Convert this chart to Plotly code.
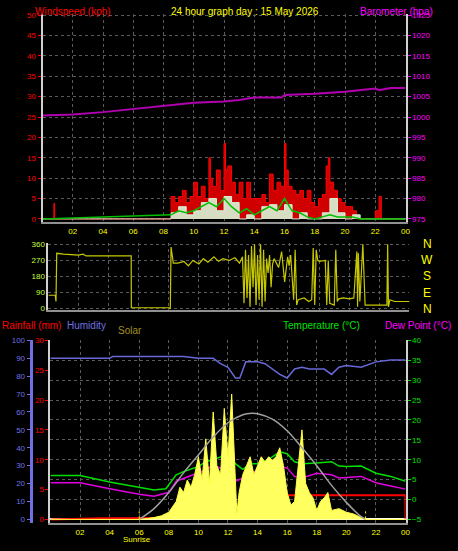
import plotly.graph_objects as go

# ---------------- data ----------------
hour_ticks = [2, 4, 6, 8, 10, 12, 14, 16, 18, 20, 22, 24]
hour_labels = ["02", "04", "06", "08", "10", "12", "14", "16", "18", "20", "22", "00"]

gust_t = [0, 0.7, 0.75, 0.8, 8.45, 8.5, 8.75, 9.0, 9.25, 9.5, 9.75, 10.0, 10.25, 10.5, 10.75, 11.0, 11.1, 11.25, 11.5, 11.75,
          12.0, 12.1, 12.25, 12.5, 12.75, 13.0, 13.25, 13.5, 13.75, 14.0, 14.25, 14.5, 14.75, 15.0, 15.25, 15.5, 15.75,
          16.0, 16.1, 16.25, 16.5, 16.75, 17.0, 17.25, 17.5, 17.75, 18.0, 18.25, 18.5, 18.75, 18.9, 19.0, 19.25, 19.5,
          19.75, 20.0, 20.25, 20.5, 20.75, 21.0, 22.0, 22.25, 22.4, 24]
gust_v = [0, 0, 3.8, 0, 0, 5.5, 4, 5.5, 7, 4, 5.5, 9, 5.5, 8, 5, 15, 10, 8, 12, 7,
          18.5, 12, 13, 9, 6, 9, 5, 9, 5, 5, 5, 6, 4, 11, 7, 9, 8,
          18.5, 12, 8, 7, 6, 7, 5, 7, 4, 3, 5, 6, 13, 15, 9, 7, 5,
          4, 3, 3, 2, 0, 0, 2, 5.5, 0, 0]
avg_t = [0, 8.5, 9, 9.5, 10, 10.5, 11, 11.5, 12, 12.5, 13, 13.5, 14, 14.5, 15, 15.5, 16, 16.5, 17, 17.5, 18, 18.5, 19, 19.5, 20, 20.5, 21, 22.5, 24]
avg_v = [0, 1, 2, 1.5, 2, 3, 4, 3, 5, 3, 1.5, 2.5, 1, 2, 3, 2, 5, 2, 1.5, 0.5, 0, 0.5, 1, 0.5, 0.5, 0.5, 0, 0, 0]
calm_t = [0, 8.5, 9, 9.5, 10, 10.5, 11, 11.5, 12, 12.5, 13, 13.5, 14, 14.5, 15, 15.5, 16, 16.5, 17, 17.5, 18, 18.5, 19, 19.5, 20, 20.5, 21, 24]
calm_v = [0, 1.5, 3, 1, 2, 4, 5, 2, 5.5, 4, 0, 1, 0, 3, 3.5, 2, 3.5, 0, 1.5, 0, 0, 1.5, 5, 1.5, 0, 1, 0, 0]

baro_t = [0, 2, 4, 6, 8, 10, 12, 13, 14, 15.8, 16, 18, 20, 22, 22.3, 23, 24]
baro_v = [1000.4, 1000.6, 1001.2, 1002.0, 1002.8, 1003.5, 1003.8, 1004.2, 1004.8, 1004.8, 1005.4, 1005.7, 1006.2, 1007.0, 1006.6, 1007.1, 1007.1]

dir_t = [0, 0.45, 0.5, 0.55, 1, 2, 2.3, 2.5, 5.5, 5.51, 8.0, 8.1, 8.15, 8.3, 8.6, 9.0, 9.3, 9.6, 10.0, 10.3, 10.6, 11.0, 11.3,
         11.6, 12.0, 12.4, 12.7, 12.9, 13.0, 13.1, 13.2, 13.3, 13.4, 13.5, 13.6, 13.7, 13.8, 13.9, 14.0, 14.1, 14.2, 14.3,
         14.4, 14.5, 14.6, 14.7, 14.8, 14.9, 15.0, 15.3, 15.5, 15.7, 15.9, 16.0, 16.1, 16.3, 16.4, 16.5, 16.6, 17.0, 17.3,
         17.5, 17.6, 17.7, 17.8, 17.9, 18.0, 18.4, 18.5, 18.6, 18.7, 19.0, 19.1, 19.2, 19.3, 19.6, 20.0, 20.3, 20.5, 20.55,
         20.6, 20.7, 20.9, 21.0, 21.05, 22.5, 22.55, 22.6, 22.7, 23.0, 24]
dir_v = [75, 75, 40, 310, 305, 300, 305, 295, 295, 5, 5, 0, 345, 255, 255, 265, 240, 270, 250, 280, 260, 290, 265,
         280, 270, 285, 255, 290, 30, 330, 60, 300, 10, 350, 120, 360, 20, 300, 50, 360, 10, 330, 40, 280, 200,
         300, 120, 250, 280, 230, 320, 150, 290, 240, 300, 50, 330, 20, 50, 60, 40,
         50, 340, 20, 330, 270, 265, 270, 20, 270, 30, 20, 330, 40, 55, 60, 55, 60, 320, 10,
         310, 40, 360, 20, 20, 20, 360, 10, 50, 40, 40]

hum_t = [0, 4, 4.2, 6, 9, 10, 11, 11.5, 12, 12.5, 12.8, 13.2, 14, 14.5, 15, 15.5, 16, 16.5, 17, 17.5, 18, 18.5, 19, 19.5, 20, 21, 22, 23, 24]
hum_v = [90, 90, 91, 91, 91, 90, 90, 87, 85, 79, 79, 88, 88, 87, 84, 81, 79, 84, 85, 84, 84, 84, 81, 85, 86, 85, 88, 89, 89]

temp_t = [0, 2, 4, 6, 7, 7.8, 8.5, 9, 10, 10.5, 11, 11.5, 12, 12.5, 13, 13.5, 14, 14.5, 15, 15.5, 16, 16.5, 17, 18, 19, 19.5, 20, 21, 22, 23, 24]
temp_v = [6.0, 6.0, 4.4, 3.0, 2.4, 2.7, 6.2, 7.0, 8.3, 9.5, 10.0, 10.7, 12.0, 9.0, 7.6, 9.0, 9.0, 9.7, 10.7, 12.0, 11.5, 9.5, 9.0, 9.2, 9.5, 8.4, 8.3, 8.4, 6.6, 5.8, 4.6]
dew_t = [0, 2, 4, 6, 7, 8, 8.5, 10, 10.5, 11, 11.5, 12, 12.5, 13, 13.5, 14, 15, 15.5, 16, 16.5, 17, 18, 19, 19.5, 21, 22, 23, 24]
dew_v = [4.2, 4.2, 2.7, 1.3, 0.8, 1.8, 4.6, 6.6, 7.4, 8.7, 7.9, 8.7, 4.6, 5.4, 7.0, 7.0, 7.9, 8.3, 7.9, 5.8, 5.4, 6.6, 6.2, 5.4, 5.8, 4.2, 3.4, 2.6]

solar_t = [0, 6, 7, 7.5, 8, 8.5, 8.75, 9, 9.25, 9.5, 9.75, 10, 10.25, 10.5, 10.75, 11, 11.25, 11.5, 11.75, 12, 12.25, 12.5,
           12.6, 12.75, 13, 13.25, 13.5, 13.75, 14, 14.25, 14.5, 14.75, 15, 15.25, 15.5, 15.75, 16, 16.25, 16.5, 16.75,
           17, 17.25, 17.5, 17.75, 18, 18.25, 18.5, 18.75, 19, 19.5, 20, 20.5, 21, 21.5, 24]
solar_v = [0, 0, 10, 20, 40, 100, 180, 150, 220, 180, 250, 350, 220, 450, 200, 600, 300, 250, 620, 350, 700, 200,
           30, 150, 250, 300, 350, 250, 300, 350, 320, 350, 330, 350, 400, 300, 150, 80, 100, 300,
           500, 200, 150, 120, 50, 100, 120, 150, 50, 60, 40, 30, 10, 0, 0]
maxsolar_t = [6, 7, 8, 9, 10, 11, 12, 13, 13.6, 14, 15, 16, 17, 18, 19, 20, 21, 21.3]
maxsolar_v = [0, 60, 150, 260, 360, 460, 540, 585, 593, 590, 560, 495, 400, 300, 190, 95, 15, 0]

rain_t = [0, 3.5, 12.6, 13, 13.5, 14, 14.3, 23.99, 24]
rain_v = [0, 0.2, 0.3, 1.8, 3.2, 3.8, 4.07, 4.07, 0]

# ---------------- figure ----------------
W, H = 458, 551
def px(x): return x / W
def py(y): return 1 - y / H

grid = dict(showgrid=True, gridcolor="#5a5a5a", griddash="dot", gridwidth=1, zeroline=False)
FONT = "Liberation Sans, Arial"
tf = dict(family="Arial", size=8)
fig = go.Figure()

# top panel
fig.add_trace(go.Scatter(x=gust_t, y=gust_v, mode="lines", line=dict(color="#ff0000", width=1, shape="hv"),
                         fill="tozeroy", fillcolor="#d00000", xaxis="x", yaxis="y"))
fig.add_trace(go.Scatter(x=calm_t, y=calm_v, mode="lines", line=dict(color="#d8f0d8", width=1, shape="hv"),
                         fill="tozeroy", fillcolor="rgba(215,245,215,0.9)", xaxis="x", yaxis="y"))
fig.add_trace(go.Scatter(x=avg_t, y=avg_v, mode="lines", line=dict(color="#00c000", width=1.5), xaxis="x", yaxis="y"))
fig.add_trace(go.Scatter(x=baro_t, y=baro_v, mode="lines", line=dict(color="#b000b0", width=2), xaxis="x", yaxis="y2"))
# middle
fig.add_trace(go.Scatter(x=dir_t, y=dir_v, mode="lines", line=dict(color="#c8c800", width=1.2), xaxis="x2", yaxis="y3"))
# bottom
fig.add_trace(go.Scatter(x=solar_t, y=solar_v, mode="lines", line=dict(color="#ffff40", width=1),
                         fill="tozeroy", fillcolor="#ffff60", xaxis="x3", yaxis="y7"))
fig.add_trace(go.Scatter(x=maxsolar_t, y=maxsolar_v, mode="lines", line=dict(color="#a0a0a0", width=1.5, shape="spline"), xaxis="x3", yaxis="y7"))
fig.add_trace(go.Scatter(x=hum_t, y=hum_v, mode="lines", line=dict(color="#6868d8", width=1.5), xaxis="x3", yaxis="y6"))
fig.add_trace(go.Scatter(x=temp_t, y=temp_v, mode="lines", line=dict(color="#00e000", width=1.5), xaxis="x3", yaxis="y4"))
fig.add_trace(go.Scatter(x=dew_t, y=dew_v, mode="lines", line=dict(color="#e000e0", width=1.5), xaxis="x3", yaxis="y4"))
fig.add_trace(go.Scatter(x=rain_t, y=rain_v, mode="lines", line=dict(color="#ff0000", width=2), xaxis="x3", yaxis="y5"))
for sx in [6, 21.3]:
    fig.add_trace(go.Scatter(x=[sx, sx], y=[0, 45], mode="lines", line=dict(color="#ffff00", width=1, dash="dot"), xaxis="x3", yaxis="y7"))

xcommon = dict(range=[0, 24], tickvals=hour_ticks, ticktext=hour_labels, tickfont=dict(tf, color="#ffff00"), **grid)
fig.update_layout(
    width=W, height=H, margin=dict(l=0, r=0, t=0, b=0), showlegend=False,
    paper_bgcolor="#000000", plot_bgcolor="#000000",
    xaxis=dict(domain=[px(43), px(410)], anchor="y", showline=True, linecolor="#909090", linewidth=2, mirror=False, **xcommon),
    yaxis=dict(domain=[py(221), py(10)], range=[-0.8, 50.3], dtick=5, tickfont=dict(tf, color="#ff0000"),
               showline=True, linecolor="#d0d0d0", linewidth=2, ticks="outside", tickcolor="#ff0000", ticklen=3, **grid),
    yaxis2=dict(overlaying="y", side="right", anchor="x", range=[974.2, 1025.3], dtick=5, tickfont=dict(tf, color="#ff00ff"),
                showline=True, linecolor="#d0d0d0", linewidth=2, ticks="outside", tickcolor="#ff00ff", ticklen=3, showgrid=False),
    xaxis2=dict(domain=[px(49), px(414)], anchor="y3", showticklabels=False, showline=True, linecolor="#909090", linewidth=2,
                range=[0, 24], tickvals=hour_ticks, **grid),
    yaxis3=dict(domain=[py(310), py(242)], anchor="x2", range=[-8, 368], tickvals=[0, 90, 180, 270, 360],
                tickfont=dict(tf, color="#c8ff40"), showline=True, linecolor="#d0d0d0", linewidth=2, **grid),
    xaxis3=dict(domain=[px(51), px(410)], anchor="y4", showline=True, linecolor="#909090", linewidth=2, **xcommon),
    yaxis4=dict(domain=[py(526), py(340)], anchor="x3", side="right", range=[-6, 40.2], dtick=5,
                tickfont=dict(tf, color="#00e000"), showline=True, linecolor="#d0d0d0", linewidth=2,
                ticks="outside", tickcolor="#00e000", ticklen=3, **grid),
    yaxis5=dict(overlaying="y4", side="left", anchor="x3", range=[-0.65, 30.1], dtick=5, tickfont=dict(tf, color="#ff0000"),
                showline=True, linecolor="#d0d0d0", linewidth=2, ticks="outside", tickcolor="#ff0000", ticklen=3, showgrid=False),
    yaxis6=dict(overlaying="y4", side="left", anchor="free", position=px(31), range=[-2.2, 100.4], dtick=10,
                tickfont=dict(tf, color="#7070e0"), showline=True, linecolor="#7070e0", linewidth=3,
                ticks="outside", tickcolor="#7070e0", ticklen=3, showgrid=False),
    yaxis7=dict(overlaying="y4", range=[-22, 1004], visible=False),
)

ann = [
    dict(x=px(33), y=py(0), text="Windspeed (kph)", color="#ff0000", xanchor="left", size=10),
    dict(x=px(248), y=py(0), text="24 hour graph day : 15 May 2026", color="#ffff00", xanchor="center", size=10),
    dict(x=px(440), y=py(0), text="Barometer (hpa)", color="#ff00ff", xanchor="right", size=10),
    dict(x=px(0), y=py(318), text="Rainfall (mm)", color="#ff0000", xanchor="left", size=10),
    dict(x=px(66), y=py(318), text="Humidity", color="#7070e0", xanchor="left", size=10),
    dict(x=px(117), y=py(323), text="Solar", color="#a09020", xanchor="left", size=10),
    dict(x=px(366), y=py(318), text="Temperature (°C)", color="#00e000", xanchor="right", size=10),
    dict(x=px(458), y=py(318), text="Dew Point (°C)", color="#ff00ff", xanchor="right", size=10),
    dict(x=px(122), y=py(536), text="Sunrise", color="#ffff00", xanchor="left", size=8),
]
for a in ann:
    fig.add_annotation(x=a["x"], y=a["y"], xref="paper", yref="paper", text=a["text"], showarrow=False,
                       xanchor=a["xanchor"], yanchor="top", font=dict(family=FONT, size=a["size"], color=a["color"]))
for i, lab in enumerate(["N", "W", "S", "E", "N"]):
    fig.add_annotation(x=px(432), y=py(243 + i * 16.5), xref="paper", yref="paper", text=lab, showarrow=False,
                       xanchor="center", yanchor="middle", font=dict(family="Arial", size=12, color="#ffff00"))

fig.write_html("out.html", config={"displayModeBar": False},
               post_script="document.body.style.margin='0';document.body.style.background='#000';")
